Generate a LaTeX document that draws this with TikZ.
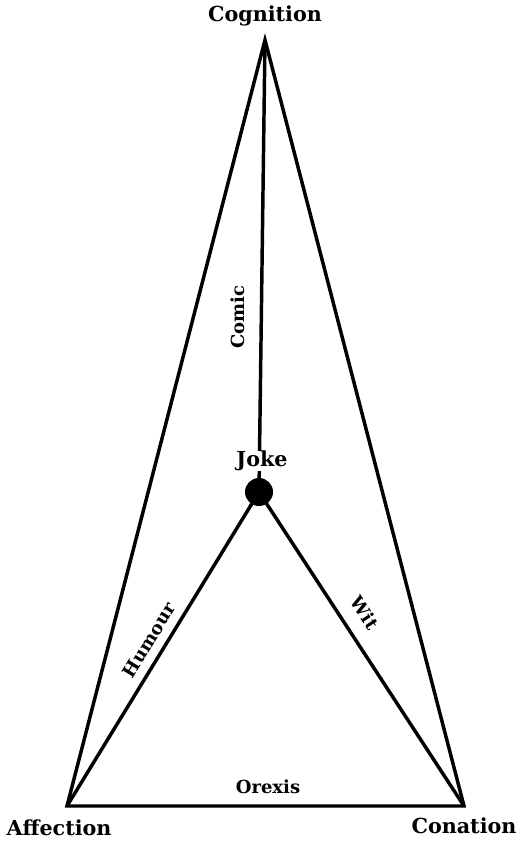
\documentclass[tikz,border=0pt]{standalone}
\usepackage{fontspec}
\setmainfont{DejaVu Serif}
\usepackage{tikz}
\usetikzlibrary{positioning}

\tikzset{
    corner/.style={font=\bfseries\fontsize{15.5}{18}\selectfont, inner sep=0pt},
    side/.style={font=\bfseries\fontsize{13.5}{16}\selectfont, inner sep=1pt},
    edge/.style={line width=2.6pt, line join=miter}
}

\begin{document}
\begin{tikzpicture}[x=0.75pt, y=-0.75pt]
    \useasboundingbox (0,0) rectangle (520,841);

    % corners of the big triangle
    \coordinate (cog) at (265,40);
    \coordinate (aff) at (67,806);
    \coordinate (con) at (464,806);
    \coordinate (joke) at (259,492);

    \draw[edge] (aff) -- (cog) -- (con) -- cycle;
    \draw[edge] (aff) -- (joke) -- (con);
    \draw[edge] (cog) -- (joke);
    \fill (joke) circle (14);

    \node[corner] (cogLabel) at (265,16) {Cognition};
    \node[corner] (affLabel) at (59,828) {Affection};
    \node[corner] (conLabel) at (464,826) {Conation};
    \node[corner, fill=white] (jokeLabel) at (262,461) {Joke};

    \node[side, rotate=90] (comic) at (238,317) {Comic};
    \node[side, rotate=58.5] (humour) at (149,640) {Humour};
    \node[side, rotate=-56.9] (wit) at (365,613) {Wit};
    \node[side] (orexis) at (268,787) {Orexis};
\end{tikzpicture}
\end{document}
